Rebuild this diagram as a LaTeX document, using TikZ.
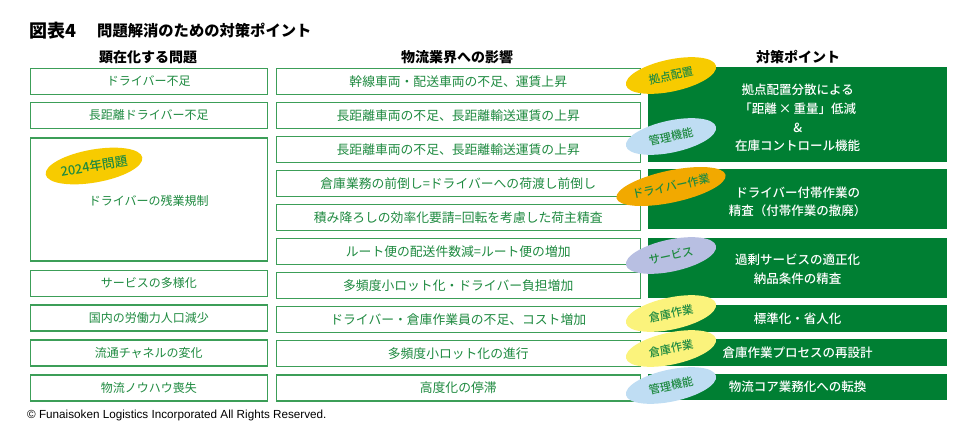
\documentclass[tikz,border=0pt]{standalone}
\usepackage{fontspec}
\setmainfont{Noto Sans CJK JP}
\newfontfamily\medfont{Noto Sans CJK JP Medium}
\newfontfamily\latinfont{Liberation Sans}
\usetikzlibrary{shapes.geometric}
\definecolor{dg}{HTML}{007F33}
\definecolor{bd}{HTML}{3C9E58}
\definecolor{tg}{HTML}{1E8A40}
\definecolor{ygold}{HTML}{F7CB00}
\definecolor{lblue}{HTML}{BFDDF3}
\definecolor{orng}{HTML}{F2A900}
\definecolor{lav}{HTML}{B8BFE2}
\definecolor{lyel}{HTML}{FBF37C}
\tikzset{
 lbox/.style={draw=bd, line width=1.5pt, fill=white, text=tg, font=\fontsize{12}{14}\selectfont, inner sep=0pt, anchor=north west, minimum width=237pt},
 mbox/.style={draw=bd, line width=1.5pt, fill=white, text=tg, font=\fontsize{12.8}{14}\selectfont, inner sep=0pt, anchor=north west, minimum width=364pt, minimum height=26pt},
 gbox/.style={fill=dg, text=white, font=\medfont\fontsize{12.5}{18.7}\selectfont, align=center, inner sep=0pt, anchor=north west, minimum width=299pt},
 ell/.style={ellipse, minimum width=92pt, minimum height=32pt, rotate=12, text=tg, font=\medfont\fontsize{11.3}{13}\selectfont, inner sep=0pt},
 hdr/.style={font=\fontsize{14}{16}\selectfont\bfseries, text=black},
}
\begin{document}
\begin{tikzpicture}[x=1pt,y=-1pt]
\useasboundingbox (0,0) rectangle (976,444);
% title
\node[anchor=west, inner sep=0pt] (t1) at (29,31) {\fontsize{18}{20}\selectfont\bfseries 図表4};
\node[anchor=west, inner sep=0pt] (t2) at (97,31) {\fontsize{15.3}{17}\selectfont\bfseries 問題解消のための対策ポイント};
% headers
\node[hdr] (h1) at (148,57) {顕在化する問題};
\node[hdr] (h2) at (457,57) {物流業界への影響};
\node[hdr] (h3) at (798,57) {対策ポイント};
% left column
\node[lbox, minimum height=26pt] (l1) at (29.5,67.5) {ドライバー不足};
\node[lbox, minimum height=26pt] (l2) at (29.5,101.5) {長距離ドライバー不足};
\node[lbox, minimum height=123pt] (l3) at (29.5,137) {\rule{0pt}{14pt}ドライバーの残業規制};
\node[lbox, minimum height=26pt] (l4) at (29.5,269.5) {サービスの多様化};
\node[lbox, minimum height=26pt] (l5) at (29.5,304) {国内の労働力人口減少};
\node[lbox, minimum height=26pt] (l6) at (29.5,339) {流通チャネルの変化};
\node[lbox, minimum height=26pt] (l7) at (29.5,374) {物流ノウハウ喪失};
\node[ell, fill=ygold, minimum width=98pt, minimum height=33pt, rotate=-2, font=\medfont\fontsize{12.8}{14}\selectfont] (e0) at (94,166) {2024年問題};
% middle column
\node[mbox] (m1) at (275.5,67.5) {幹線車両・配送車両の不足、運賃上昇};
\node[mbox] (m2) at (275.5,101.5) {長距離車両の不足、長距離輸送運賃の上昇};
\node[mbox] (m3) at (275.5,135.5) {長距離車両の不足、長距離輸送運賃の上昇};
\node[mbox] (m4) at (275.5,169.5) {倉庫業務の前倒し=ドライバーへの荷渡し前倒し};
\node[mbox] (m5) at (275.5,203.5) {積み降ろしの効率化要請=回転を考慮した荷主精査};
\node[mbox] (m6) at (275.5,237.5) {ルート便の配送件数減=ルート便の増加};
\node[mbox] (m7) at (275.5,271.5) {多頻度小ロット化・ドライバー負担増加};
\node[mbox] (m8) at (275.5,305.5) {ドライバー・倉庫作業員の不足、コスト増加};
\node[mbox] (m9) at (275.5,339.5) {多頻度小ロット化の進行};
\node[mbox] (m10) at (275.5,374) {高度化の停滞};
% right column
\node[gbox, minimum height=95pt] (g1) at (648,67) {\rule{0pt}{17pt}拠点配置分散による\\「距離\,×\,重量」低減\\\&\\在庫コントロール機能};
\node[gbox, minimum height=60pt] (g2) at (648,169) {\rule{0pt}{16pt}ドライバー付帯作業の\\精査（付帯作業の撤廃）};
\node[gbox, minimum height=60pt] (g3) at (648,238) {\rule{0pt}{13pt}過剰サービスの適正化\\納品条件の精査};
\node[gbox, minimum height=27pt] (g4) at (648,305) {標準化・省人化};
\node[gbox, minimum height=27pt] (g5) at (648,339) {倉庫作業プロセスの再設計};
\node[gbox, minimum height=26pt] (g6) at (648,374) {物流コア業務化への転換};
% ellipses
\node[ell, fill=ygold] (e1) at (671,75.5) {拠点配置};
\node[ell, fill=lblue] (e2) at (671,136.5) {管理機能};
\node[ell, fill=orng] (e3) at (671,186.5) {ドライバー作業};
\node[ell, fill=lav] (e4) at (671,255.5) {サービス};
\node[ell, fill=lyel] (e5) at (671,313.5) {倉庫作業};
\node[ell, fill=lyel] (e6) at (671,348.5) {倉庫作業};
\node[ell, fill=lblue] (e7) at (671,385.5) {管理機能};
% footer
\node[anchor=west, inner sep=0pt] (f) at (27,415) {\latinfont\fontsize{11.7}{13}\selectfont © Funaisoken Logistics Incorporated All Rights Reserved.};
\end{tikzpicture}
\end{document}
